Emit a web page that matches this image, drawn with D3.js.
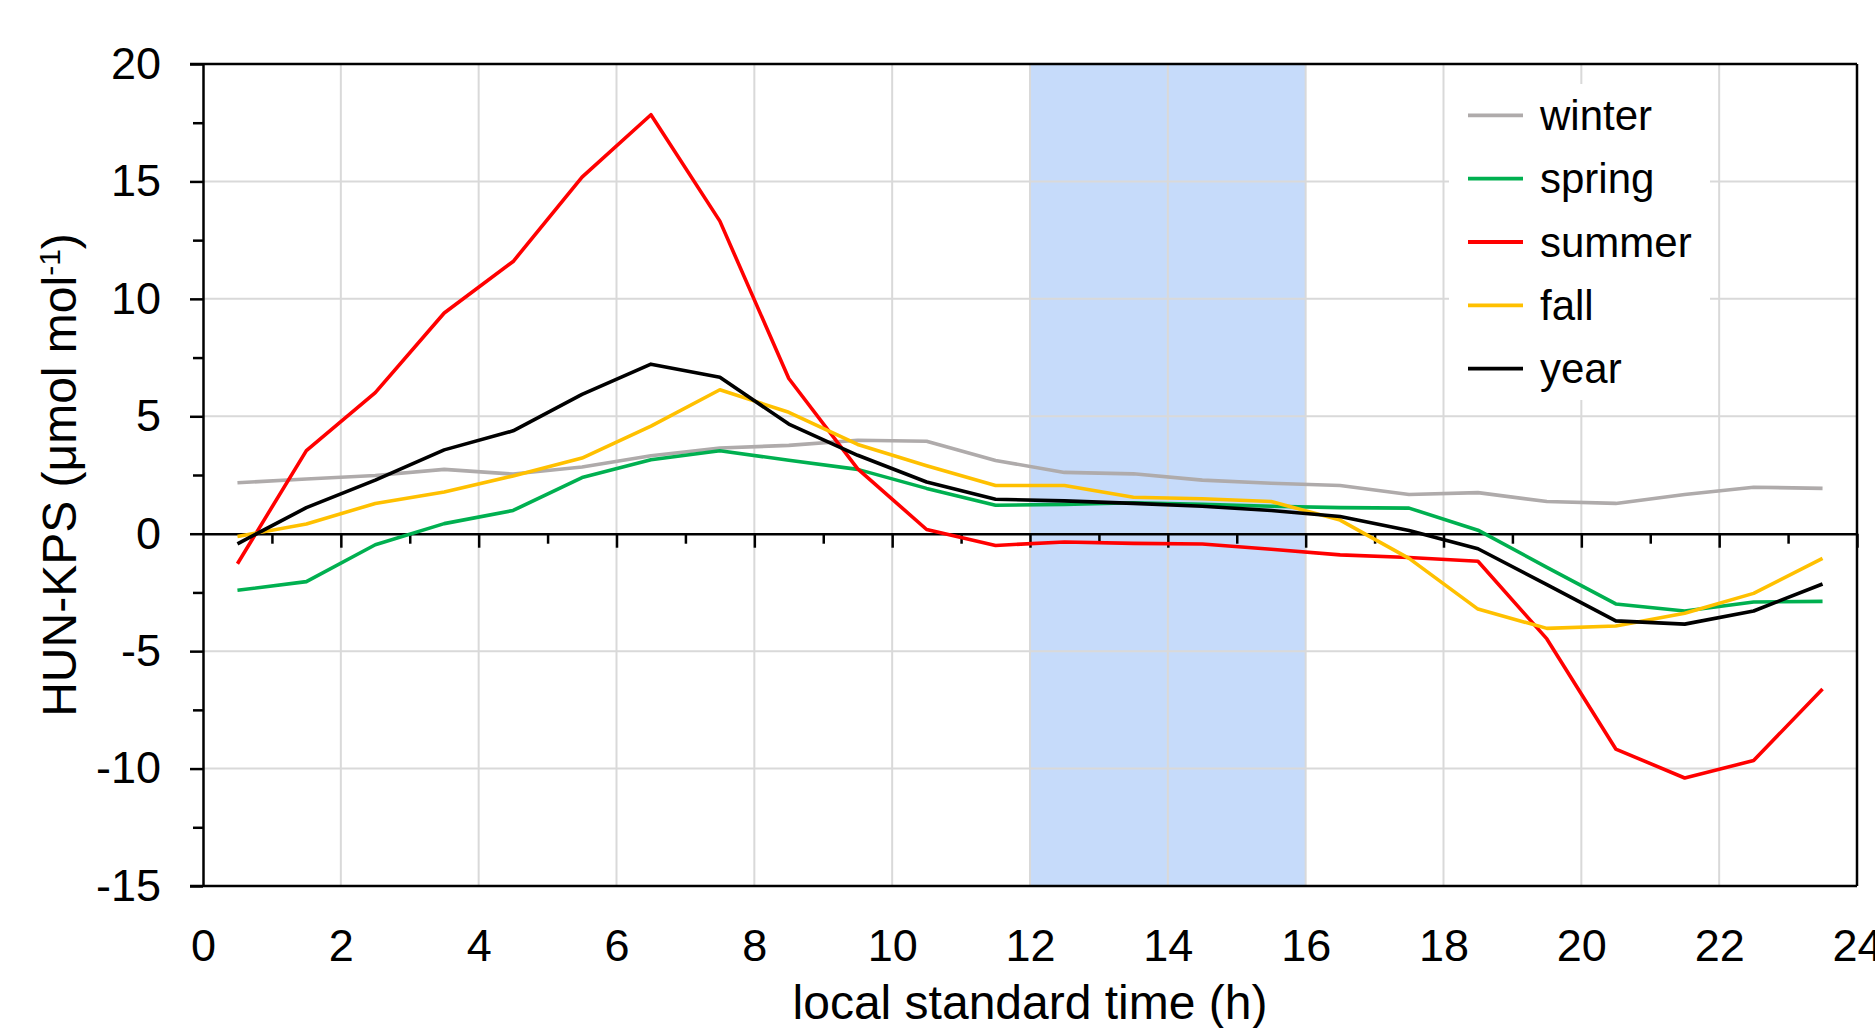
<!DOCTYPE html>
<html>
<head>
<meta charset="utf-8">
<script src="https://cdn.jsdelivr.net/npm/d3@7"></script>
<style>
  body { margin: 0; background: #fff; }
  svg text { font-family: "Liberation Sans", Arial, sans-serif; fill: #000; }
</style>
</head>
<body>
<div id="chart"></div>
<script>
// Data (hourly means, HUN-KPS difference)
const hours = [0.5, 1.5, 2.5, 3.5, 4.5, 5.5, 6.5, 7.5, 8.5, 9.5, 10.5, 11.5,
               12.5, 13.5, 14.5, 15.5, 16.5, 17.5, 18.5, 19.5, 20.5, 21.5, 22.5, 23.5];
const winter = [2.17, 2.33, 2.48, 2.74, 2.54, 2.84, 3.32, 3.65, 3.76, 3.98, 3.94, 3.12,
                2.61, 2.55, 2.28, 2.15, 2.05, 1.67, 1.75, 1.37, 1.29, 1.67, 1.98, 1.93];
const spring = [-2.41, -2.04, -0.47, 0.43, 0.99, 2.39, 3.15, 3.53, 3.13, 2.74, 1.93, 1.21,
                1.25, 1.32, 1.25, 1.17, 1.11, 1.09, 0.15, -1.43, -2.99, -3.29, -2.91, -2.88];
const summer = [-1.28, 3.54, 6.01, 9.40, 11.59, 15.18, 17.84, 13.31, 6.61, 2.76, 0.18, -0.50,
                -0.35, -0.41, -0.44, -0.66, -0.90, -1.01, -1.17, -4.48, -9.17, -10.40, -9.66, -6.61];
const fall = [-0.12, 0.41, 1.29, 1.78, 2.46, 3.22, 4.58, 6.13, 5.17, 3.80, 2.89, 2.05,
              2.05, 1.55, 1.49, 1.37, 0.58, -1.05, -3.21, -4.03, -3.93, -3.39, -2.54, -1.05];
const year = [-0.43, 1.11, 2.28, 3.57, 4.38, 5.93, 7.22, 6.66, 4.67, 3.34, 2.20, 1.47,
              1.40, 1.29, 1.17, 0.99, 0.73, 0.14, -0.64, -2.17, -3.71, -3.85, -3.29, -2.14];

const seriesNames = ["winter", "spring", "summer", "fall", "year"];
const seriesColors = ["#AFABAB", "#00B050", "#FF0000", "#FFC000", "#000000"];
const seriesValues = [winter, spring, summer, fall, year];

const xMajor = [0, 2, 4, 6, 8, 10, 12, 14, 16, 18, 20, 22, 24];
const xMinor = [1, 3, 5, 7, 9, 11, 13, 15, 17, 19, 21, 23];
const yMajor = [-15, -10, -5, 0, 5, 10, 15, 20];
const yMinor = [-12.5, -7.5, -2.5, 2.5, 7.5, 12.5, 17.5];
const band = [12, 16];

// Layout
const W = 1875, H = 1028;
const margin = { top: 64, right: 18, bottom: 142, left: 203 };
const width = W - margin.left - margin.right;
const height = H - margin.top - margin.bottom;

const svg = d3.select("#chart").append("svg")
    .attr("width", W)
    .attr("height", H);
const g = svg.append("g")
    .attr("transform", `translate(${margin.left},${margin.top})`);

// Scales
const x = d3.scaleLinear().domain([0, 24]).range([0, width]);
const y = d3.scaleLinear().domain([-15, 20]).range([height, 0]);

// plain hyphen for negatives, like the original
const fmt = d => String(d);

// Shaded afternoon band
g.append("rect")
    .attr("x", x(band[0]))
    .attr("y", 0)
    .attr("width", x(band[1]) - x(band[0]))
    .attr("height", height)
    .attr("fill", "#C6DBFA");

// Gridlines
g.append("g").selectAll("line")
    .data(xMajor.filter(d => d > 0 && d < 24))
    .join("line")
    .attr("x1", d => x(d)).attr("x2", d => x(d))
    .attr("y1", 0).attr("y2", height)
    .attr("stroke", "#D9D9D9").attr("stroke-width", 2);
g.append("g").selectAll("line")
    .data(yMajor.filter(d => d !== 0 && d > -15 && d < 20))
    .join("line")
    .attr("x1", 0).attr("x2", width)
    .attr("y1", d => y(d)).attr("y2", d => y(d))
    .attr("stroke", "#D9D9D9").attr("stroke-width", 2);

// Legend background covers the grid
const legend = { x: 1449 - margin.left, y: 84 - margin.top, w: 261, h: 316, step: 63.3 };
g.append("rect")
    .attr("x", legend.x).attr("y", legend.y)
    .attr("width", legend.w).attr("height", legend.h)
    .attr("fill", "#fff");

// Frame: top, right, bottom
g.append("line").attr("x1", -13).attr("x2", width).attr("y1", 0).attr("y2", 0)
    .attr("stroke", "#000").attr("stroke-width", 2.5);
g.append("line").attr("x1", width).attr("x2", width).attr("y1", 0).attr("y2", height)
    .attr("stroke", "#000").attr("stroke-width", 2.5);
g.append("line").attr("x1", -13).attr("x2", width).attr("y1", height).attr("y2", height)
    .attr("stroke", "#000").attr("stroke-width", 2.5);

// Y axis
const yAxis = g.append("g")
    .call(d3.axisLeft(y).tickValues(yMajor).tickFormat(fmt).tickSize(13).tickSizeOuter(0).tickPadding(29));
yAxis.selectAll("text").style("font-size", "45px");
const yMinorAxis = g.append("g")
    .call(d3.axisLeft(y).tickValues(yMinor).tickSize(10).tickFormat(""));
yMinorAxis.select(".domain").remove();

// X axis along zero, ticks pointing down
const xAxis = g.append("g")
    .attr("transform", `translate(0,${y(0)})`)
    .call(d3.axisBottom(x).tickValues(xMajor.filter(d => d > 0)).tickSize(14).tickSizeOuter(0).tickFormat(""));
const xMinorAxis = g.append("g")
    .attr("transform", `translate(0,${y(0)})`)
    .call(d3.axisBottom(x).tickValues(xMinor).tickSize(10).tickFormat(""));
xMinorAxis.select(".domain").remove();

// X tick labels below the frame
const xLabels = g.append("g")
    .attr("transform", `translate(0,${height})`)
    .call(d3.axisBottom(x).tickValues(xMajor).tickFormat(fmt).tickSize(0).tickPadding(43));
xLabels.select(".domain").remove();
xLabels.selectAll("text").style("font-size", "45px");

svg.selectAll(".domain, .tick line").attr("stroke", "#000").attr("stroke-width", 2.5);

// Lines
const line = d3.line()
    .x((d, i) => x(hours[i]))
    .y(d => y(d));

seriesValues.forEach((vals, k) => {
    g.append("path")
        .datum(vals)
        .attr("fill", "none")
        .attr("stroke", seriesColors[k])
        .attr("stroke-width", 3.6)
        .attr("stroke-linejoin", "round")
        .attr("d", line);
});

// Legend entries
seriesNames.forEach((name, k) => {
    const ly = 115.4 - margin.top + k * legend.step;
    g.append("line")
        .attr("x1", 1468 - margin.left).attr("x2", 1523 - margin.left)
        .attr("y1", ly).attr("y2", ly)
        .attr("stroke", seriesColors[k]).attr("stroke-width", 3.8);
    g.append("text")
        .attr("x", 1540 - margin.left)
        .attr("y", ly + 14.6)
        .style("font-size", "42px")
        .text(name);
});

// Axis titles
svg.append("text")
    .attr("x", margin.left + width / 2)
    .attr("y", 1019)
    .attr("text-anchor", "middle")
    .style("font-size", "48px")
    .text("local standard time (h)");

const yTitle = svg.append("text")
    .attr("transform", `translate(76,${margin.top + height / 2}) rotate(-90)`)
    .attr("text-anchor", "middle")
    .style("font-size", "48px");
yTitle.append("tspan").text("HUN-KPS (μmol mol");
yTitle.append("tspan").attr("dy", -16).style("font-size", "30px").text("-1");
yTitle.append("tspan").attr("dy", 16).text(")");
</script>
</body>
</html>
